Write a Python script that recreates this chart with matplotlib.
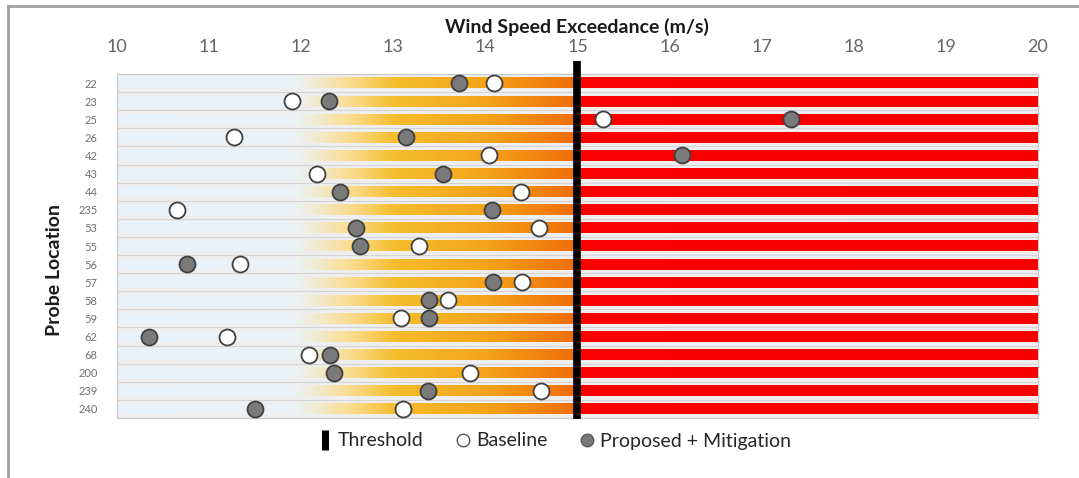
import numpy as np
import matplotlib
matplotlib.use("Agg")
import matplotlib.pyplot as plt
from matplotlib.colors import LinearSegmentedColormap
from matplotlib.lines import Line2D

# Probe locations, top to bottom
probes = ["22", "23", "25", "26", "42", "43", "44", "235", "53", "55",
          "56", "57", "58", "59", "62", "68", "200", "239", "240"]
baseline = [14.09, 11.90, 15.28, 11.27, 14.04, 12.17, 14.39, 10.65, 14.58, 13.28,
            11.34, 14.40, 13.59, 13.08, 11.19, 12.08, 13.83, 14.60, 13.11]
proposed = [13.71, 12.30, 17.32, 13.14, 16.13, 13.54, 12.42, 14.07, 12.60, 12.64,
            10.76, 14.08, 13.39, 13.39, 10.35, 12.31, 12.36, 13.38, 11.50]
threshold = 15
x_min, x_max = 10, 20
x_ticks = list(range(10, 21))

plt.rcParams['font.family'] = ['Lato', 'DejaVu Sans']

fig = plt.figure(figsize=(10.79, 4.78), dpi=100)
ax = fig.add_axes([0.1084, 0.1255, 0.8536, 0.7197])
ax.set_facecolor('#eeeeee')

# band colours along the wind speed axis
cmap = LinearSegmentedColormap.from_list('band', [
    (0.0, '#e8f2fb'), (0.19, '#ebf3f8'), (0.25, '#f9dd92'), (0.30, '#f5bd2c'),
    (0.40, '#f4a31a'), (0.499, '#f06c08'), (0.5, '#fb0000'), (1.0, '#f60000')])
grad = np.linspace(0, 1, 500).reshape(1, -1)

n = len(probes)
ypos = np.arange(n)
for y in ypos:
    ax.imshow(grad, cmap=cmap, aspect='auto', interpolation='bilinear',
              extent=(x_min, x_max, y + 0.3, y - 0.3), zorder=1)
    # thin divider between rows
    ax.axhline(y + 0.5, color='#d4d4d4', lw=0.8, zorder=0.5)

ax.plot([threshold, threshold], [-1.2, n - 0.45], color='black', lw=5.5,
        solid_capstyle='butt', clip_on=False, zorder=3)

ax.plot(baseline, ypos, 'o', ms=11.5, mfc='white', mec='#404040', mew=1.3,
        ls='none', zorder=4)
ax.plot(proposed, ypos, 'o', ms=11.5, mfc='#7a7a7a', mec='#404040', mew=1.3,
        ls='none', zorder=4)

ax.set_xlim(x_min, x_max)
ax.set_ylim(n - 0.5, -0.5)
ax.xaxis.tick_top()
ax.set_xticks(x_ticks)
ax.tick_params(axis='x', length=0, labelsize=13, labelcolor='#666666', pad=14)
ax.set_yticks(ypos)
ax.set_yticklabels(probes)
ax.tick_params(axis='y', length=0, labelsize=8, labelcolor='#707070', pad=14)
for s in ax.spines.values():
    s.set_color('#c8c8c8')
    s.set_linewidth(0.8)

fig.text(577 / 1079, 1 - 27 / 478, 'Wind Speed Exceedance (m/s)', ha='center',
         va='center', fontsize=14, fontweight='bold', color='#1a1a1a')
fig.text(55 / 1079, 1 - 270 / 478, 'Probe Location', rotation=90, ha='center',
         va='center', fontsize=14, fontweight='bold', color='#1a1a1a')

handles = [
    Line2D([], [], marker='|', ls='none', color='black', ms=14, mew=5),
    Line2D([], [], marker='o', ls='none', mfc='white', mec='#595959', ms=9, mew=1),
    Line2D([], [], marker='o', ls='none', mfc='#7a7a7a', mec='#595959', ms=9, mew=1),
]
fig.legend(handles, ['Threshold', 'Baseline', 'Proposed + Mitigation'],
           loc='center', bbox_to_anchor=(554 / 1079, 1 - 441 / 478), ncol=3,
           frameon=False, fontsize=14, handlelength=0.8, handletextpad=0.3,
           columnspacing=1.6, labelcolor='#262626')

# outer frame edges
fig.add_artist(Line2D([8 / 1079, 1.0], [1 - 6 / 478, 1 - 6 / 478], color='#a0a0a0', lw=2))
fig.add_artist(Line2D([8 / 1079, 8 / 1079], [0, 1 - 6 / 478], color='#a0a0a0', lw=2))

fig.savefig('out.png', dpi=100)
